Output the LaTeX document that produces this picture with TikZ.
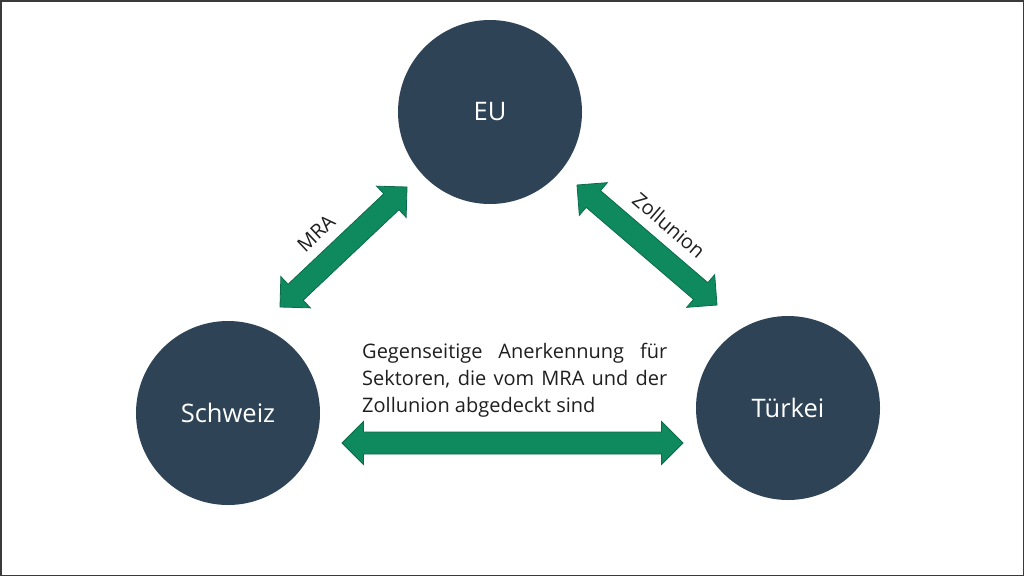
\documentclass[tikz,border=0pt]{standalone}
\usepackage{fontspec}
\setmainfont{Open Sans}
\usetikzlibrary{calc}
\definecolor{navy}{HTML}{2E4356}
\definecolor{grn}{HTML}{0F8A5F}
\definecolor{grndark}{HTML}{0B6B49}
\definecolor{framec}{HTML}{3A3A3A}
\tikzset{
  country/.style={circle, fill=navy, minimum size=184pt, inner sep=0pt, text=white, font=\fontsize{25.5}{30}\selectfont},
  lbl/.style={font=\fontsize{20}{27.2}\selectfont, text=black!88, inner sep=0pt},
  barrow/.style={fill=grn, draw=grndark, line width=0.8pt, line join=miter},
}
\newcommand\blockarrow[2]{%
  \path[barrow] let \p1=($(#2)-(#1)$), \n1={atan2(\y1,\x1)}, \n2={veclen(\x1,\y1)} in
    [shift={(#1)}, rotate=\n1] (0,0) -- (21.5,21.5) -- (21.5,11) -- (\n2-21.5,11) -- (\n2-21.5,21.5) -- (\n2,0)
    -- (\n2-21.5,-21.5) -- (\n2-21.5,-11) -- (21.5,-11) -- (21.5,-21.5) -- cycle;}
\begin{document}
\begin{tikzpicture}[x=1pt, y=-1pt]
  \useasboundingbox (0,0) rectangle (1024,576);
  \draw[framec, line width=1.5pt] (0.75,0.75) rectangle (1023.25,575.25);

  \node[country] (eu) at (490,112) {EU};
  \node[country] (ch) at (228,413) {Schweiz};
  \node[country] (tr) at (788,408) {Türkei};

  \coordinate (m1) at (280,307);
  \coordinate (m2) at (407,187);
  \coordinate (z1) at (577,185);
  \coordinate (z2) at (717,305);
  \coordinate (h1) at (342,443);
  \coordinate (h2) at (683,443);

  \blockarrow{m1}{m2}
  \blockarrow{z1}{z2}
  \blockarrow{h1}{h2}

  \node[lbl, rotate=43.4] (mra) at (316,233) {MRA};
  \node[lbl, rotate=-40.6] (zoll) at (669,225) {Zollunion};
  \node[lbl, anchor=north west, align=left] (txt) at (362,343)
    {\makebox[305pt][s]{Gegenseitige Anerkennung für}\\
     \makebox[305pt][s]{Sektoren, die vom MRA und der}\\
     Zollunion abgedeckt sind};
\end{tikzpicture}
\end{document}
